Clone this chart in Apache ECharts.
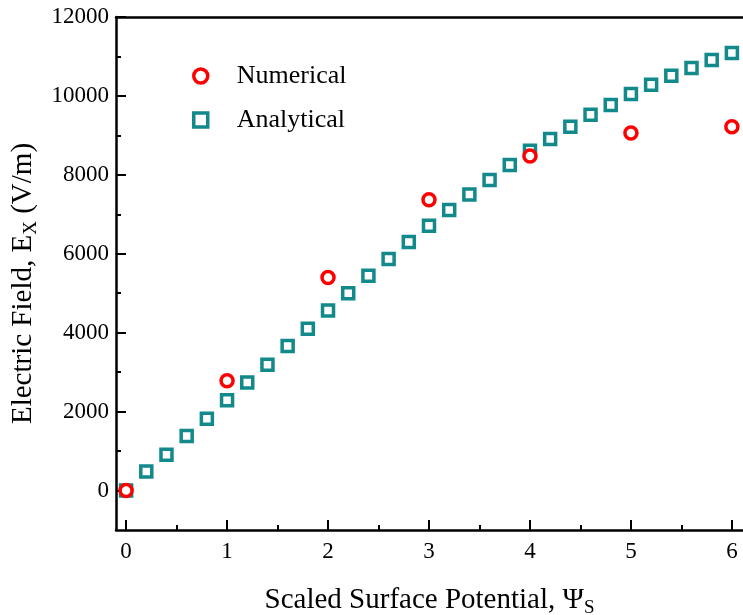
<!DOCTYPE html>
<html><head><meta charset="utf-8">
<script src="https://cdn.jsdelivr.net/npm/echarts@6/dist/echarts.min.js"></script>
<style>html,body{margin:0;padding:0;background:#fff}#c{width:743px;height:615px}</style>
</head><body><div id="c"></div>
<script>
const analyticalX = [0,0.2,0.4,0.6,0.8,1.0,1.2,1.4,1.6,1.8,2.0,2.2,2.4,2.6,2.8,3.0,3.2,3.4,3.6,3.8,4.0,4.2,4.4,4.6,4.8,5.0,5.2,5.4,5.6,5.8,6.0];
const analyticalY = [0,480,910,1380,1820,2290,2740,3190,3660,4100,4560,5000,5440,5870,6300,6710,7110,7500,7870,8250,8610,8910,9220,9520,9770,10050,10280,10510,10710,10910,11090];
const numericalX = [0,1,2,3,4,5,6];
const numericalY = [0,2780,5400,7370,8480,9060,9220];
const xTickLabels = [0,1,2,3,4,5,6];
const xMinorTicks = [0.5,1.5,2.5,3.5,4.5,5.5];
const yTickLabels = [0,2000,4000,6000,8000,10000,12000];
const yMinorTicks = [1000,3000,5000,7000,9000,11000];

const font = 'Liberation Serif';
const teal = '#12898a';
const red = '#ff0000';

const chart = echarts.init(document.getElementById('c'), null, {renderer:'canvas'});
const axisLine = {show:true, onZero:false, lineStyle:{color:'#000', width:2.5}};
chart.setOption({
  animation:false,
  backgroundColor:'#fff',
  grid:{left:116, top:17, right:0, bottom:85, outerBoundsMode:'none', containLabel:false},
  legend:{
    orient:'vertical', left:187, top:58, itemGap:18, itemWidth:14, itemHeight:14,
    itemStyle:{borderWidth:3.5},
    textStyle:{fontFamily:font, fontSize:26, color:'#000', padding:[0,0,0,24]},
    data:['Numerical','Analytical']
  },
  xAxis:[{
    type:'value', min:-0.1, max:6.11, position:'bottom',
    name:'Scaled Surface Potential, {v|Ψ}{sub|S}', nameLocation:'middle', nameGap:53,
    nameTextStyle:{fontFamily:font, fontSize:29, color:'#000',
      rich:{v:{fontFamily:font, fontSize:29, color:'#000'}, sub:{fontFamily:font, fontSize:19, color:'#000', padding:[16,0,0,0]}}},
    axisLine:axisLine,
    splitLine:{show:false},
    axisTick:{show:true, inside:true, length:10, lineStyle:{width:2, color:'#000'}, customValues:xTickLabels},
    axisLabel:{show:true, fontFamily:font, fontSize:23, color:'#000', margin:10, customValues:xTickLabels, formatter:v=>String(Math.round(v))}
  },{
    type:'value', min:-0.1, max:6.11, position:'bottom',
    axisLine:{show:false, onZero:false}, splitLine:{show:false},
    axisTick:{show:true, inside:true, length:5, lineStyle:{width:2, color:'#000'}, customValues:xMinorTicks},
    axisLabel:{show:false}
  },{
    type:'value', min:-0.1, max:6.11, position:'top',
    axisLine:axisLine, splitLine:{show:false}, axisTick:{show:false}, axisLabel:{show:false}
  }],
  yAxis:[{
    type:'value', min:-1000, max:12000, position:'left',
    name:'Electric Field, E{sub|X} (V/m)', nameLocation:'middle', nameGap:74, nameRotate:90,
    nameTextStyle:{fontFamily:font, fontSize:29, color:'#000', padding:[0,20,0,0],
      rich:{sub:{fontFamily:font, fontSize:19, color:'#000', padding:[16,0,0,0]}}},
    axisLine:axisLine, splitLine:{show:false},
    axisTick:{show:true, inside:true, length:10, lineStyle:{width:2, color:'#000'}, customValues:yTickLabels},
    axisLabel:{show:true, fontFamily:font, fontSize:23, color:'#000', margin:7, customValues:yTickLabels, formatter:v=>String(Math.round(v))}
  },{
    type:'value', min:-1000, max:12000, position:'left',
    axisLine:{show:false, onZero:false}, splitLine:{show:false},
    axisTick:{show:true, inside:true, length:5, lineStyle:{width:2, color:'#000'}, customValues:yMinorTicks},
    axisLabel:{show:false}
  }],
  series:[{
    name:'Analytical', type:'scatter', symbol:'rect', symbolSize:11, z:2,
    itemStyle:{color:'#fff', borderColor:teal, borderWidth:3.5, opacity:1},
    data:analyticalX.map((x,i)=>[x, analyticalY[i]])
  },{
    name:'Numerical', type:'scatter', symbol:'circle', symbolSize:12, z:3,
    itemStyle:{color:'#fff', borderColor:red, borderWidth:3.5, opacity:1},
    data:numericalX.map((x,i)=>[x, numericalY[i]])
  }]
});
</script></body></html>
